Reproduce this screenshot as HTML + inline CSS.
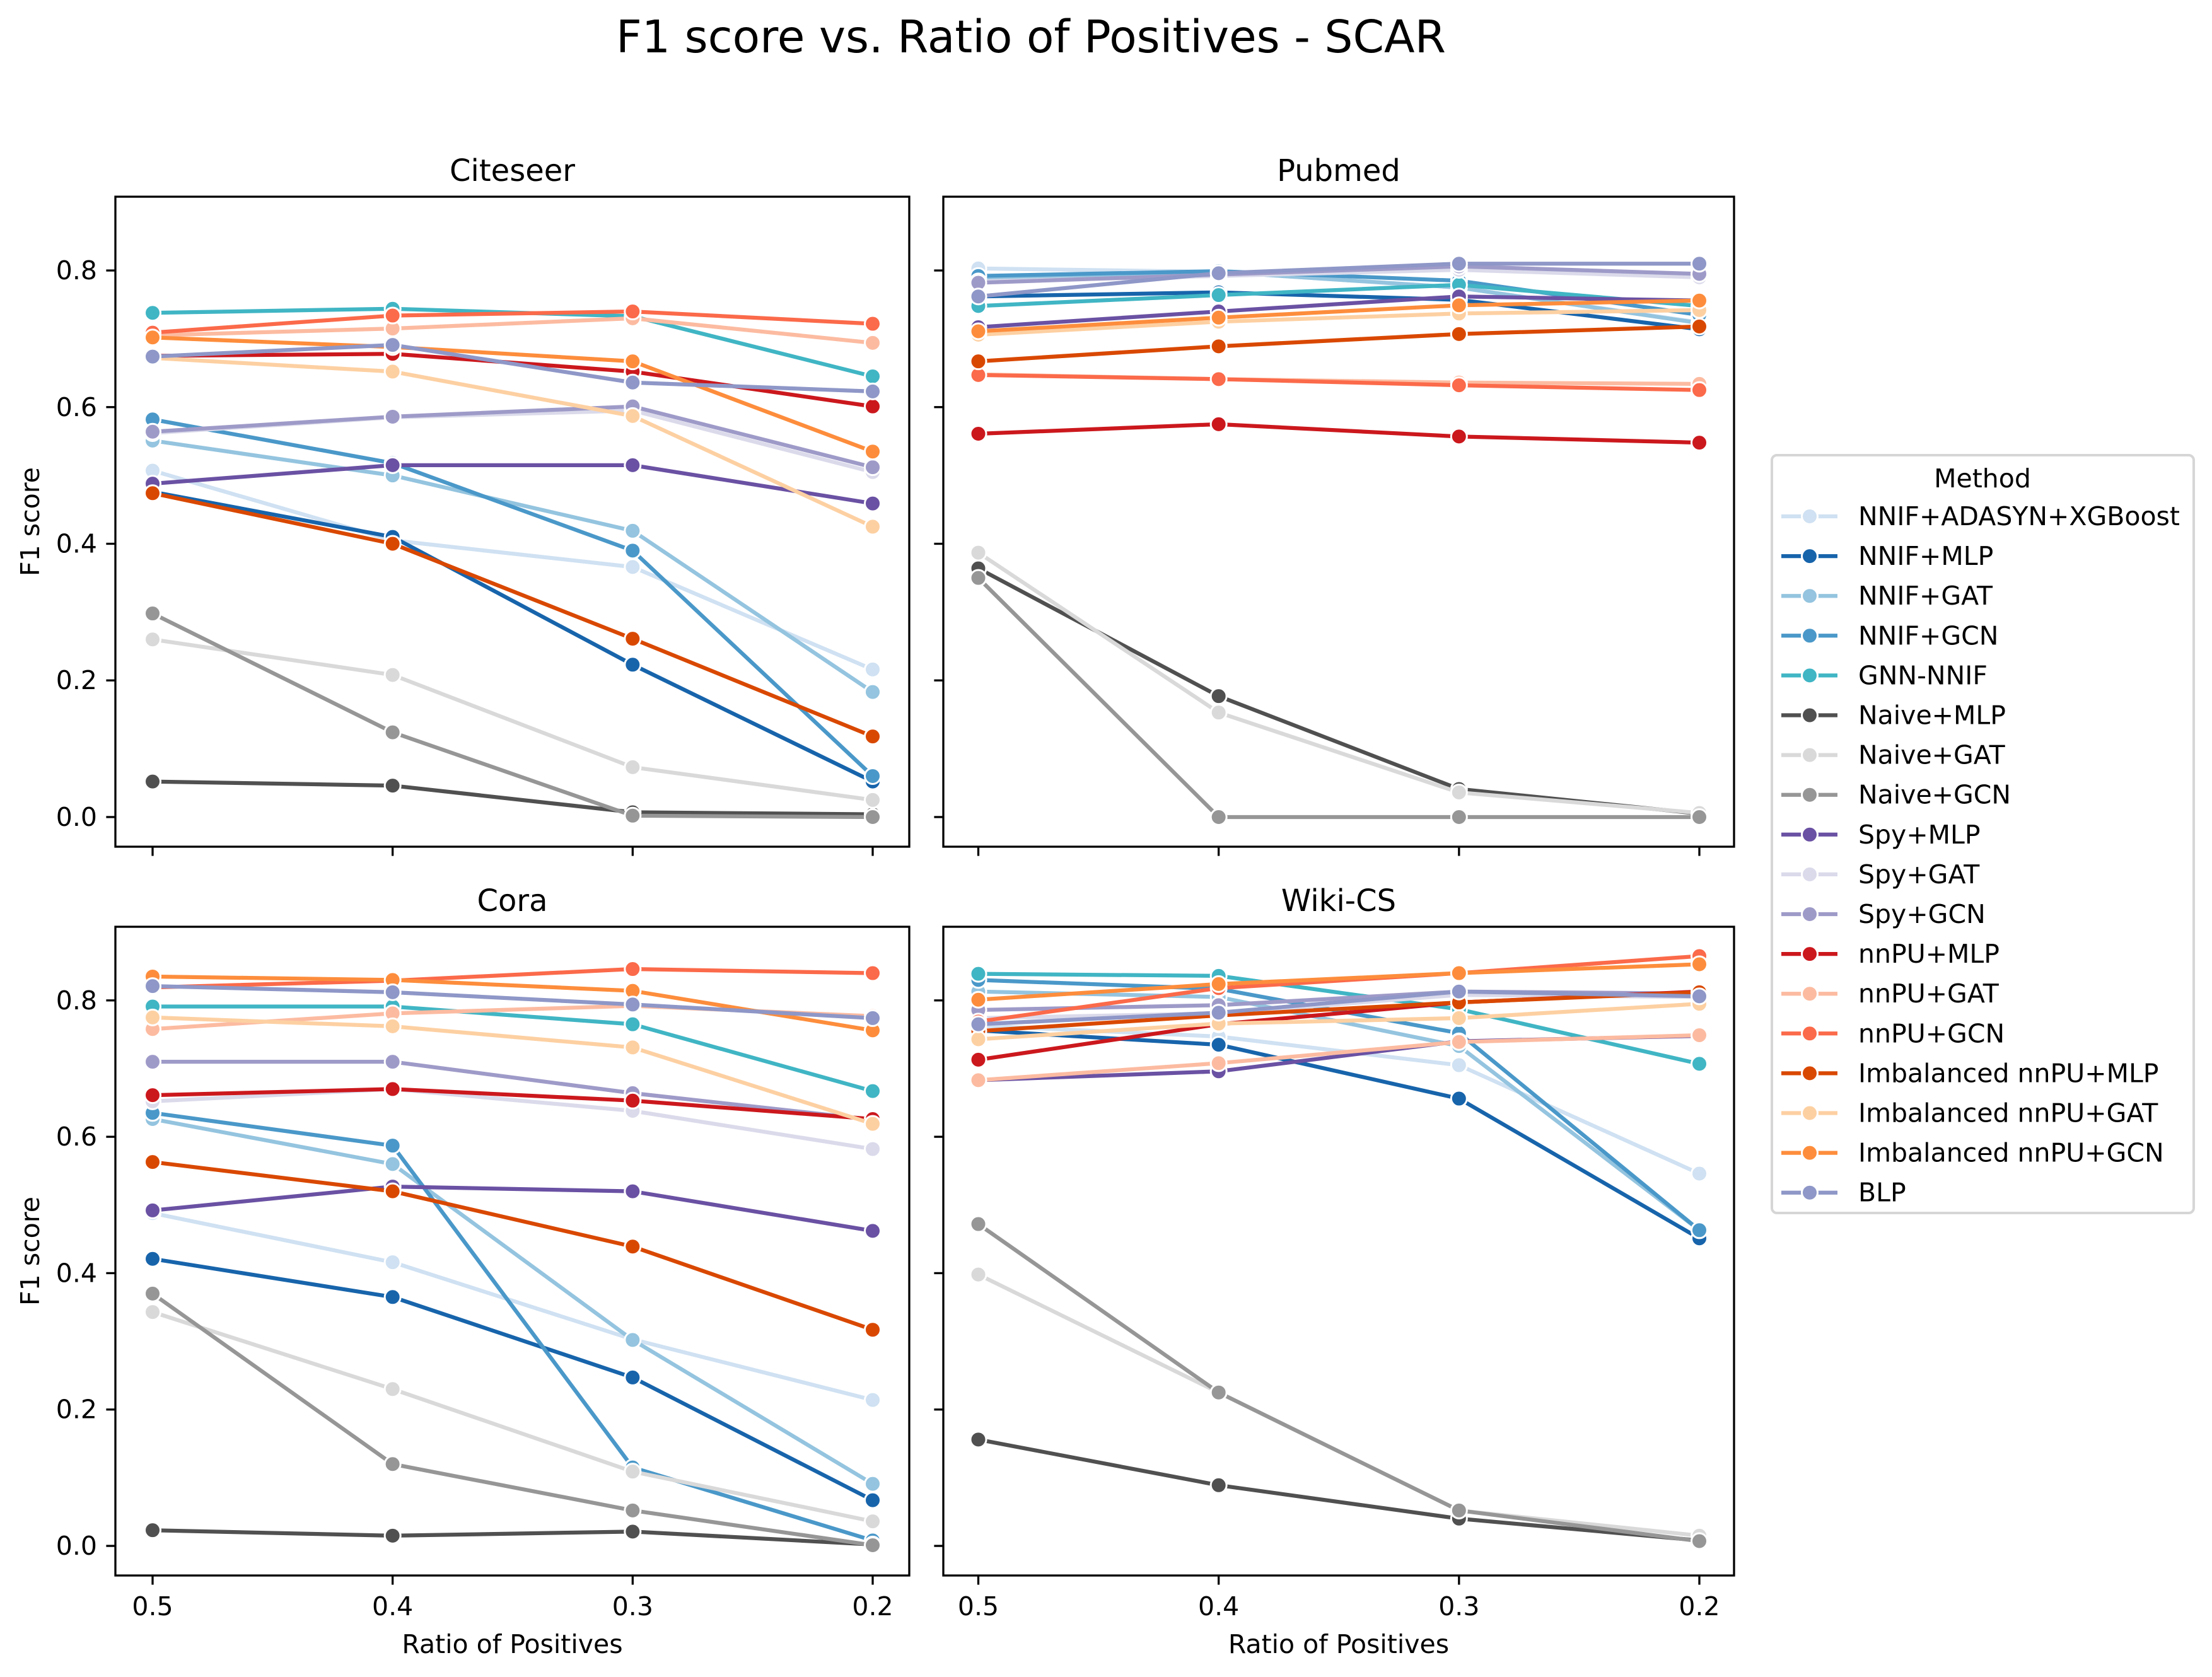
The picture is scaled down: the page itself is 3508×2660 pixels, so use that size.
<!DOCTYPE html>
<html><head><meta charset="utf-8"><style>
html,body{margin:0;padding:0;background:#fff;}
svg{display:block;font-family:"DejaVu Sans","Liberation Sans",sans-serif;}
</style></head><body>
<svg id="fig" width="3508" height="2660" viewBox="0 0 3508 2660" xmlns="http://www.w3.org/2000/svg">
<rect width="3508" height="2660" fill="#fff"/>
<text x="1635" y="83" font-size="71" text-anchor="middle">F1 score vs. Ratio of Positives - SCAR</text>
<g id="plots"></g>
<g id="legend"></g>
</svg>
<script>
const xCategories = ["0.5","0.4","0.3","0.2"];
const yTicks = [0, 0.2, 0.4, 0.6, 0.8];
const yTickLabels = ["0.0","0.2","0.4","0.6","0.8"];
const methods = ["NNIF+ADASYN+XGBoost","NNIF+MLP","NNIF+GAT","NNIF+GCN","GNN-NNIF","Naive+MLP","Naive+GAT","Naive+GCN","Spy+MLP","Spy+GAT","Spy+GCN","nnPU+MLP","nnPU+GAT","nnPU+GCN","Imbalanced nnPU+MLP","Imbalanced nnPU+GAT","Imbalanced nnPU+GCN","BLP"];
const colors = ["#cfe1f2","#1764ab","#94c4df","#4a98c9","#40b5c4","#505050","#d9d9d9","#969696","#6a51a3","#dadaeb","#9e9ac8","#cb181d","#fcbba1","#fb6a4a","#d94801","#fdd0a2","#fd8d3c","#8e97c7"];
const citeseer = [
[0.507,0.405,0.366,0.216],[0.476,0.41,0.223,0.052],[0.551,0.50,0.419,0.183],[0.582,0.518,0.39,0.06],
[0.738,0.744,0.733,0.645],[0.052,0.046,0.007,0.004],[0.26,0.208,0.073,0.025],[0.298,0.124,0.002,0.0],
[0.488,0.515,0.515,0.459],[0.562,0.585,0.595,0.505],[0.564,0.586,0.601,0.512],[0.675,0.678,0.652,0.601],
[0.705,0.715,0.73,0.694],[0.709,0.734,0.74,0.722],[0.474,0.40,0.261,0.118],[0.672,0.652,0.587,0.425],
[0.702,0.688,0.667,0.535],[0.674,0.691,0.636,0.623]];
const pubmed = [
[0.803,0.798,0.775,0.724],[0.762,0.768,0.757,0.714],[0.788,0.798,0.775,0.723],[0.792,0.799,0.785,0.735],
[0.748,0.764,0.779,0.748],[0.364,0.177,0.041,0.005],[0.387,0.153,0.036,0.006],[0.35,0.0,0.0,0.0],
[0.717,0.74,0.762,0.756],[0.784,0.792,0.801,0.79],[0.782,0.794,0.806,0.795],[0.561,0.575,0.557,0.548],
[0.648,0.641,0.636,0.634],[0.647,0.641,0.632,0.625],[0.667,0.689,0.707,0.718],[0.706,0.725,0.737,0.742],
[0.711,0.731,0.749,0.756],[0.762,0.796,0.81,0.81]];
const cora = [
[0.488,0.416,0.303,0.214],[0.421,0.365,0.247,0.067],[0.626,0.56,0.302,0.091],[0.635,0.587,0.115,0.008],
[0.791,0.791,0.765,0.667],[0.023,0.015,0.021,0.002],[0.343,0.23,0.109,0.036],[0.37,0.12,0.052,0.001],
[0.492,0.527,0.52,0.462],[0.652,0.67,0.638,0.582],[0.71,0.71,0.664,0.625],[0.661,0.67,0.653,0.626],
[0.758,0.781,0.792,0.777],[0.819,0.829,0.846,0.84],[0.563,0.52,0.439,0.317],[0.775,0.762,0.731,0.619],
[0.835,0.83,0.814,0.756],[0.821,0.812,0.794,0.774]];
const wikics = [
[0.763,0.747,0.705,0.546],[0.756,0.735,0.656,0.451],[0.813,0.805,0.733,0.463],[0.83,0.817,0.752,0.463],
[0.839,0.836,0.787,0.707],[0.156,0.089,0.04,0.008],[0.398,0.225,0.052,0.015],[0.472,0.225,0.052,0.007],
[0.683,0.696,0.74,0.748],[0.774,0.781,0.808,0.805],[0.786,0.793,0.813,0.81],[0.713,0.765,0.797,0.813],
[0.683,0.708,0.739,0.749],[0.769,0.818,0.84,0.865],[0.755,0.778,0.797,0.812],[0.743,0.766,0.774,0.795],
[0.801,0.824,0.84,0.853],[0.765,0.782,0.813,0.806]];
const panelTitles = ["Citeseer","Pubmed","Cora","Wiki-CS"];
const panelData = [citeseer, pubmed, cora, wikics];

const NS = "http://www.w3.org/2000/svg";
function mk(tag, attrs, parent){const e=document.createElementNS(NS,tag);for(const k in attrs)e.setAttribute(k,attrs[k]);parent.appendChild(e);return e;}
const YMIN=-0.0434, YMAX=0.908;
const boxes=[
 {l:183,r:1442,t:312,b:1343,x0:242,x3:1384,left:true,bottom:false},
 {l:1496,r:2750,t:312,b:1343,x0:1551.5,x3:2695,left:false,bottom:false},
 {l:183,r:1442,t:1470,b:2499,x0:242,x3:1384,left:true,bottom:true},
 {l:1496,r:2750,t:1470,b:2499,x0:1551.5,x3:2695,left:false,bottom:true}];
const plots=document.getElementById('plots');
boxes.forEach((B,pi)=>{
  const g=mk('g',{},plots);
  
  
  const xs=i=>B.x0+(B.x3-B.x0)*i/(xCategories.length-1);
  const ys=v=>B.b-(v-YMIN)/(YMAX-YMIN)*(B.b-B.t);
  const t=mk('text',{x:(B.l+B.r)/2,y:B.t-25,'font-size':48,'text-anchor':'middle'},g);
  t.textContent=panelTitles[pi];
  
  
  yTicks.forEach((v,i)=>{
    const tk=mk('line',{x1:B.l-14.6,x2:B.l,y1:ys(v),y2:ys(v),stroke:'#000','stroke-width':3.3},g);
    
    
    if(B.left){const tl=mk('text',{x:B.l-29,y:ys(v)+14,'font-size':41,'text-anchor':'end'},g);tl.textContent=yTickLabels[i];
      
      }
  });
  xCategories.forEach((c,i)=>{
    const tk=mk('line',{x1:xs(i),x2:xs(i),y1:B.b,y2:B.b+14.6,stroke:'#000','stroke-width':3.3},g);
    
    
    if(B.bottom){const tl=mk('text',{x:xs(i),y:B.b+63,'font-size':41,'text-anchor':'middle'},g);tl.textContent=c;
      
      }
  });
  if(B.left){const yl=mk('text',{x:0,y:0,'font-size':41,'text-anchor':'middle',transform:`translate(62,${(B.t+B.b)/2}) rotate(-90)`},g);yl.textContent='F1 score';
    
    }
  if(B.bottom){const xl=mk('text',{x:(B.l+B.r)/2,y:2622,'font-size':41,'text-anchor':'middle'},g);xl.textContent='Ratio of Positives';
    
    }
  const data=panelData[pi];
  data.forEach((series,si)=>{
    const sg=mk('g',{},g);
    
    
    const pts=series.map((v,i)=>xs(i)+','+ys(v)).join(' ');
    const pl=mk('polyline',{points:pts,fill:'none',stroke:colors[si],'stroke-width':6.25,'stroke-linejoin':'round','stroke-linecap':'square'},sg);
    
    
    series.forEach((v,i)=>{
      const c=mk('circle',{cx:xs(i),cy:ys(v),r:12.5,fill:colors[si],stroke:'#fff','stroke-width':3},sg);
      
      
    });
  });
  const fr=mk('rect',{x:B.l,y:B.t,width:B.r-B.l,height:B.b-B.t,fill:'none',stroke:'#000','stroke-width':3.3},g);
  
  
});
const L=document.getElementById('legend');
const lb=mk('rect',{x:2810,y:722,width:669,height:1202,rx:8,fill:'#fff',stroke:'#d6d6d6','stroke-width':4},L);


const lt=mk('text',{x:3144,y:773,'font-size':41,'text-anchor':'middle'},L);
lt.textContent='Method';


methods.forEach((m,i)=>{
  const cy=819+i*63.1;
  const eg=mk('g',{},L);
  
  
  mk('line',{x1:2825,x2:2914,y1:cy,y2:cy,stroke:colors[i],'stroke-width':6.25},eg);
  mk('circle',{cx:2870,cy:cy,r:12.5,fill:colors[i],stroke:'#fff','stroke-width':3},eg);
  const tx=mk('text',{x:2947,y:cy+14,'font-size':41},eg);
  tx.textContent=m;
});
</script>
</body></html>
